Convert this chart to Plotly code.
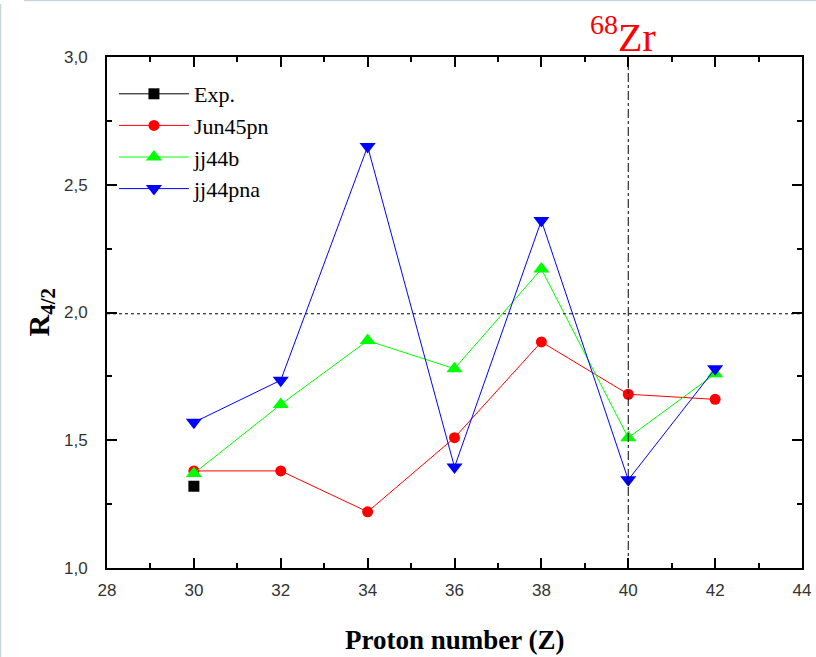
import plotly.graph_objects as go

z_exp = [30]
r_exp = [1.32]

z_th = [30, 32, 34, 36, 38, 40, 42]
r_jun45pn = [1.38, 1.38, 1.22, 1.51, 1.885, 1.68, 1.66]
r_jj44b = [1.37, 1.64, 1.89, 1.78, 2.17, 1.51, 1.76]
r_jj44pna = [1.57, 1.735, 2.65, 1.395, 2.36, 1.345, 1.78]

x_ticks = [28, 30, 32, 34, 36, 38, 40, 42, 44]
y_ticks = [1.0, 1.5, 2.0, 2.5, 3.0]

serif = "Liberation Serif, Times New Roman, serif"
sans = "Liberation Sans, Arial, sans-serif"

L, R, T, B = 107, 14, 57, 89
W, H = 816, 657
PW, PH = W - L - R, H - T - B


def px(xp):
    return (xp - L) / PW


def py(yp):
    return (H - B - yp) / PH


fig = go.Figure()
fig.add_trace(go.Scatter(x=z_exp, y=r_exp, name="Exp.", mode="lines+markers",
                         line=dict(color="black", width=1),
                         marker=dict(symbol="square", size=11, color="black")))
fig.add_trace(go.Scatter(x=z_th, y=r_jun45pn, name="Jun45pn", mode="lines+markers",
                         line=dict(color="red", width=1),
                         marker=dict(symbol="circle", size=11, color="red")))
fig.add_trace(go.Scatter(x=z_th, y=r_jj44b, name="jj44b", mode="lines+markers",
                         line=dict(color="#00ff00", width=1),
                         marker=dict(symbol="triangle-up", size=14, color="#00ff00")))
fig.add_trace(go.Scatter(x=z_th, y=r_jj44pna, name="jj44pna", mode="lines+markers",
                         line=dict(color="blue", width=1),
                         marker=dict(symbol="triangle-down", size=14, color="blue")))

# reference lines
fig.add_shape(type="line", xref="x", yref="y", x0=28, x1=44, y0=1.995, y1=1.995,
              line=dict(color="black", width=1, dash="3px,3px"))
fig.add_shape(type="line", xref="x", yref="y", x0=40, x1=40, y0=1.0, y1=3.0,
              line=dict(color="black", width=1, dash="dashdot"))

# light page frame
fig.add_shape(type="line", xref="paper", yref="paper", x0=px(24), x1=px(816), y0=py(0.5), y1=py(0.5),
              line=dict(color="#c9d5dd", width=1.5), layer="below")
fig.add_shape(type="line", xref="paper", yref="paper", x0=px(0.5), x1=px(0.5), y0=py(4), y1=py(657),
              line=dict(color="#c9d5dd", width=1.5), layer="below")

fig.add_annotation(x=40, xref="x", y=py(62), yref="paper", text="<sup>68</sup>Zr",
                   showarrow=False, xanchor="center", yanchor="bottom", xshift=-5,
                   font=dict(family=serif, size=40, color="red"))
fig.add_annotation(x=px(40), xref="paper", y=0.5, yref="paper", text="<b>R<sub>4/2</sub></b>",
                   showarrow=False, textangle=-90, xanchor="center", yanchor="middle",
                   font=dict(family=serif, size=30, color="black"))
fig.add_annotation(x=px(455), xref="paper", y=py(640), yref="paper", text="<b>Proton number (Z)</b>",
                   showarrow=False, xanchor="center", yanchor="middle",
                   font=dict(family=serif, size=27, color="black"))

axis_common = dict(showgrid=False, zeroline=False, showline=True, linecolor="black",
                   linewidth=2, ticks="inside", ticklen=10, tickwidth=2, tickcolor="black",
                   mirror="ticks", automargin=False,
                   tickfont=dict(family=sans, size=17, color="#333333"))

fig.update_xaxes(range=[28, 44], tickvals=x_ticks, ticktext=[str(v) for v in x_ticks],
                 ticklabelstandoff=6,
                 minor=dict(ticks="inside", ticklen=5, tickwidth=2, tickcolor="black", dtick=1),
                 **axis_common)
fig.update_yaxes(range=[1.0, 3.0], tickvals=y_ticks, tickformat=".1f",
                 ticklabelstandoff=14,
                 minor=dict(ticks="inside", ticklen=5, tickwidth=2, tickcolor="black", dtick=0.25),
                 **axis_common)

fig.update_layout(
    width=W, height=H,
    margin=dict(l=L, r=R, t=T, b=B),
    paper_bgcolor="white", plot_bgcolor="white",
    separators=",.",
    showlegend=True,
    legend=dict(x=0.01, y=py(73), xanchor="left", yanchor="top",
                font=dict(family=serif, size=22, color="black"),
                bgcolor="rgba(0,0,0,0)", tracegroupgap=0, itemwidth=70),
)

fig.write_html("out.html")
